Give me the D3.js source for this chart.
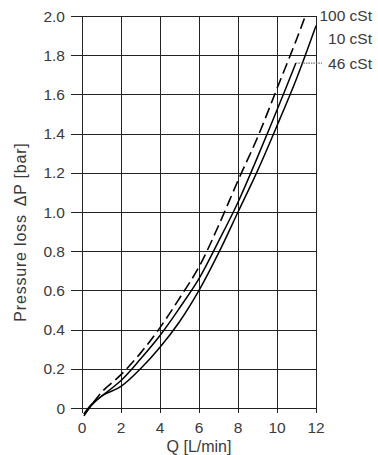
<!DOCTYPE html>
<html>
<head>
<meta charset="utf-8">
<script src="https://cdn.jsdelivr.net/npm/d3@7"></script>
<style>
  body { margin: 0; background: #fff; }
  text { font-family: "Liberation Sans", Arial, sans-serif; fill: #3a3a3a; }
</style>
</head>
<body>
<svg id="chart" width="378" height="455"></svg>
<script>
// flow values (L/min) and pressure loss (bar)
const visc100 = [
  [0.1, -0.04], [1, 0.08], [2, 0.17], [3, 0.28], [4, 0.41], [5, 0.56],
  [6, 0.72], [7, 0.93], [8, 1.16], [9, 1.38], [10, 1.63], [11, 1.88], [11.45, 2.0]
];
const visc46 = [
  [0.1, -0.03], [0.5, 0.02], [1, 0.06], [2, 0.14], [3, 0.25], [4, 0.37],
  [5, 0.51], [6, 0.66], [7, 0.85], [8, 1.05], [9, 1.28], [10, 1.52], [10.97, 1.76]
];
const visc10 = [
  [0.1, -0.03], [1, 0.06], [2, 0.11], [3, 0.2], [4, 0.31], [5, 0.44],
  [6, 0.6], [7, 0.79], [8, 1.0], [9, 1.21], [10, 1.44], [11, 1.68], [12, 1.95]
];
const qTicks = [0, 2, 4, 6, 8, 10, 12];
const pTicks = [0, 0.2, 0.4, 0.6, 0.8, 1.0, 1.2, 1.4, 1.6, 1.8, 2.0];
const seriesLabels = ['100 cSt', '10 cSt', '46 cSt'];

const svg = d3.select('#chart');
const plotLeft = 82, plotRight = 316, plotTop = 16, plotBottom = 408;

const x = d3.scaleLinear().domain([0, 12]).range([plotLeft, plotRight]);
const y = d3.scaleLinear().domain([0, 2]).range([plotBottom, plotTop]);

// grid
const grid = svg.append('g').attr('stroke', '#222').attr('stroke-width', 1);
grid.selectAll('line.v').data(qTicks).enter().append('line')
  .attr('class', 'v')
  .attr('x1', d => Math.round(x(d)) + 0.5).attr('x2', d => Math.round(x(d)) + 0.5)
  .attr('y1', plotTop).attr('y2', plotBottom + 5);
grid.selectAll('line.h').data(pTicks).enter().append('line')
  .attr('class', 'h')
  .attr('x1', plotLeft - 11).attr('x2', plotRight)
  .attr('y1', d => Math.round(y(d)) + 0.5).attr('y2', d => Math.round(y(d)) + 0.5);

// tick labels
svg.append('g').selectAll('text').data(pTicks).enter().append('text')
  .attr('x', 65).attr('y', d => y(d)).attr('dy', '0.36em')
  .attr('text-anchor', 'end').attr('font-size', 15.5)
  .text(d => d === 0 ? '0' : d3.format('.1f')(d));

svg.append('g').selectAll('text').data(qTicks).enter().append('text')
  .attr('x', d => x(d)).attr('y', 433)
  .attr('text-anchor', 'middle').attr('font-size', 15.5)
  .text(d => d);

// axis titles
svg.append('text')
  .attr('x', (plotLeft + plotRight) / 2).attr('y', 452)
  .attr('text-anchor', 'middle').attr('font-size', 16)
  .text('Q [L/min]');
const yTitle = svg.append('text')
  .attr('transform', 'translate(26,232) rotate(-90)')
  .attr('text-anchor', 'middle').attr('font-size', 16)
  .attr('letter-spacing', 0.8);
yTitle.append('tspan').text('Pressure loss');
yTitle.append('tspan').attr('dx', 8).text('\u0394P [bar]');

// curves
const line = d3.line()
  .x(d => x(d[0])).y(d => y(d[1]))
  .curve(d3.curveCatmullRom);

svg.append('path').datum(visc100)
  .attr('d', line).attr('fill', 'none').attr('stroke', '#000')
  .attr('stroke-width', 1.6).attr('stroke-dasharray', '11,5');
svg.append('path').datum(visc46)
  .attr('d', line).attr('fill', 'none').attr('stroke', '#000')
  .attr('stroke-width', 1.5);
svg.append('path').datum(visc10)
  .attr('d', line).attr('fill', 'none').attr('stroke', '#000')
  .attr('stroke-width', 1.5);

// series labels on the right
const labelY = [21, 44, 69];
svg.append('g').selectAll('text').data(seriesLabels).enter().append('text')
  .attr('x', 372).attr('y', (d, i) => labelY[i])
  .attr('text-anchor', 'end').attr('font-size', 15.5)
  .text(d => d);

// leader from the 46 cSt curve end
const end46 = visc46[visc46.length - 1];
svg.append('line')
  .attr('x1', x(end46[0])).attr('x2', 322)
  .attr('y1', y(end46[1])).attr('y2', y(end46[1]))
  .attr('stroke', '#777').attr('stroke-width', 1.2)
  .attr('stroke-dasharray', '1.5,1');
</script>
</body>
</html>
